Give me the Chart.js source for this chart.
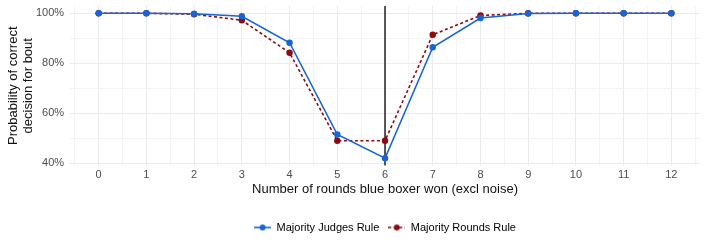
<!DOCTYPE html>
<html>
<head>
<meta charset="utf-8">
<script src="https://cdn.jsdelivr.net/npm/chart.js@4/dist/chart.umd.min.js"></script>
<style>
  body { margin: 0; background: #fff; }
  #wrap { width: 706px; height: 249px; }
</style>
</head>
<body>
<div id="wrap"><canvas id="boutChart" width="706" height="249"></canvas></div>
<script>
// rounds won by blue boxer
var rounds = [0, 1, 2, 3, 4, 5, 6, 7, 8, 9, 10, 11, 12];
// probability of correct decision, in percent
var judgesRule = [100, 100, 99.8, 98.8, 88.2, 51.5, 42, 86.4, 98.1, 99.9, 100, 100, 100];
var roundsRule = [100, 100, 99.6, 97.2, 84.2, 49, 49, 91.4, 99.1, 100, 100, 100, 100];
var seriesNames = ["Majority Judges Rule", "Majority Rounds Rule"];
var markerRound = 6;

var blue = "#1764d4";
var red = "#8b0a14";

function toPoints(vals) {
  return rounds.map(function (r, i) { return {x: r, y: vals[i]}; });
}

// small legend key: line with a dot
function legendKey(color, dashed) {
  var c = document.createElement("canvas");
  c.width = 17; c.height = 10;
  var ctx = c.getContext("2d");
  ctx.strokeStyle = color;
  ctx.lineWidth = 1.6;
  if (dashed) ctx.setLineDash([3, 2.5]);
  ctx.beginPath(); ctx.moveTo(0, 5); ctx.lineTo(17, 5); ctx.stroke();
  ctx.fillStyle = color;
  ctx.beginPath(); ctx.arc(8.5, 5, 3, 0, Math.PI * 2); ctx.fill();
  return c;
}

var vline = {
  id: "vline",
  beforeDatasetsDraw: function (chart) {
    var x = chart.scales.x.getPixelForValue(markerRound);
    var a = chart.chartArea;
    var ctx = chart.ctx;
    ctx.save();
    ctx.strokeStyle = "#000";
    ctx.lineWidth = 1.3;
    ctx.beginPath(); ctx.moveTo(x, a.top); ctx.lineTo(x, a.bottom); ctx.stroke();
    ctx.restore();
  }
};

Chart.defaults.font.family = "'Liberation Sans', Arial, sans-serif";

new Chart("boutChart", {
  type: "line",
  data: {
    datasets: [{
      label: seriesNames[0],
      data: toPoints(judgesRule),
      borderColor: blue,
      backgroundColor: blue,
      borderWidth: 1.6,
      pointRadius: 3.2,
      pointBorderWidth: 0,
      tension: 0
    }, {
      label: seriesNames[1],
      data: toPoints(roundsRule),
      borderColor: red,
      backgroundColor: red,
      borderWidth: 1.6,
      borderDash: [3, 2.5],
      pointRadius: 3.2,
      pointBorderWidth: 0,
      tension: 0
    }]
  },
  options: {
    responsive: false,
    animation: false,
    layout: {padding: {top: 6, right: 6, left: 6, bottom: 6}},
    plugins: {
      tooltip: {enabled: false},
      legend: {
        position: "bottom",
        fullSize: false,
        labels: {
          usePointStyle: true,
          pointStyleWidth: 17,
          color: "#222",
          font: {size: 11},
          padding: 9,
          generateLabels: function (chart) {
            return chart.data.datasets.map(function (ds, i) {
              return {
                text: ds.label,
                pointStyle: legendKey(ds.borderColor, i === 1),
                fillStyle: ds.borderColor,
                strokeStyle: ds.borderColor,
                lineWidth: 0,
                datasetIndex: i
              };
            });
          }
        }
      }
    },
    scales: {
      x: {
        type: "linear",
        min: -0.6,
        max: 12.6,
        border: {display: false},
        grid: {
          color: function (c) { return Number.isInteger(c.tick.value) ? "#ebebeb" : "#f4f4f4"; },
          lineWidth: 1,
          drawTicks: false
        },
        ticks: {
          stepSize: 0.5,
          includeBounds: false,
          autoSkip: false,
          maxRotation: 0,
          color: "#4d4d4d",
          font: {size: 11},
          padding: 3,
          callback: function (v) { return Number.isInteger(v) ? v : ""; }
        },
        title: {
          display: true,
          text: "Number of rounds blue boxer won (excl noise)",
          color: "#111",
          font: {size: 13, lineHeight: 1.1},
          padding: {top: -2, bottom: 16}
        }
      },
      y: {
        min: 39.1,
        max: 102.9,
        border: {display: false},
        afterFit: function (s) { s.paddingTop = 0; s.width -= 6; },
        grid: {
          color: function (c) { return c.tick.value % 20 === 0 ? "#ebebeb" : "#f4f4f4"; },
          lineWidth: 1,
          drawTicks: false
        },
        ticks: {
          stepSize: 10,
          includeBounds: false,
          autoSkip: false,
          color: "#4d4d4d",
          font: {size: 11},
          padding: 6,
          callback: function (v) { return v % 20 === 0 ? v + "%" : ""; }
        },
        title: {
          display: true,
          text: ["Probability of correct", "decision for bout"],
          color: "#111",
          font: {size: 13, lineHeight: 1.15},
          padding: {top: 0, bottom: 0}
        }
      }
    }
  },
  plugins: [vline]
});
</script>
</body>
</html>
